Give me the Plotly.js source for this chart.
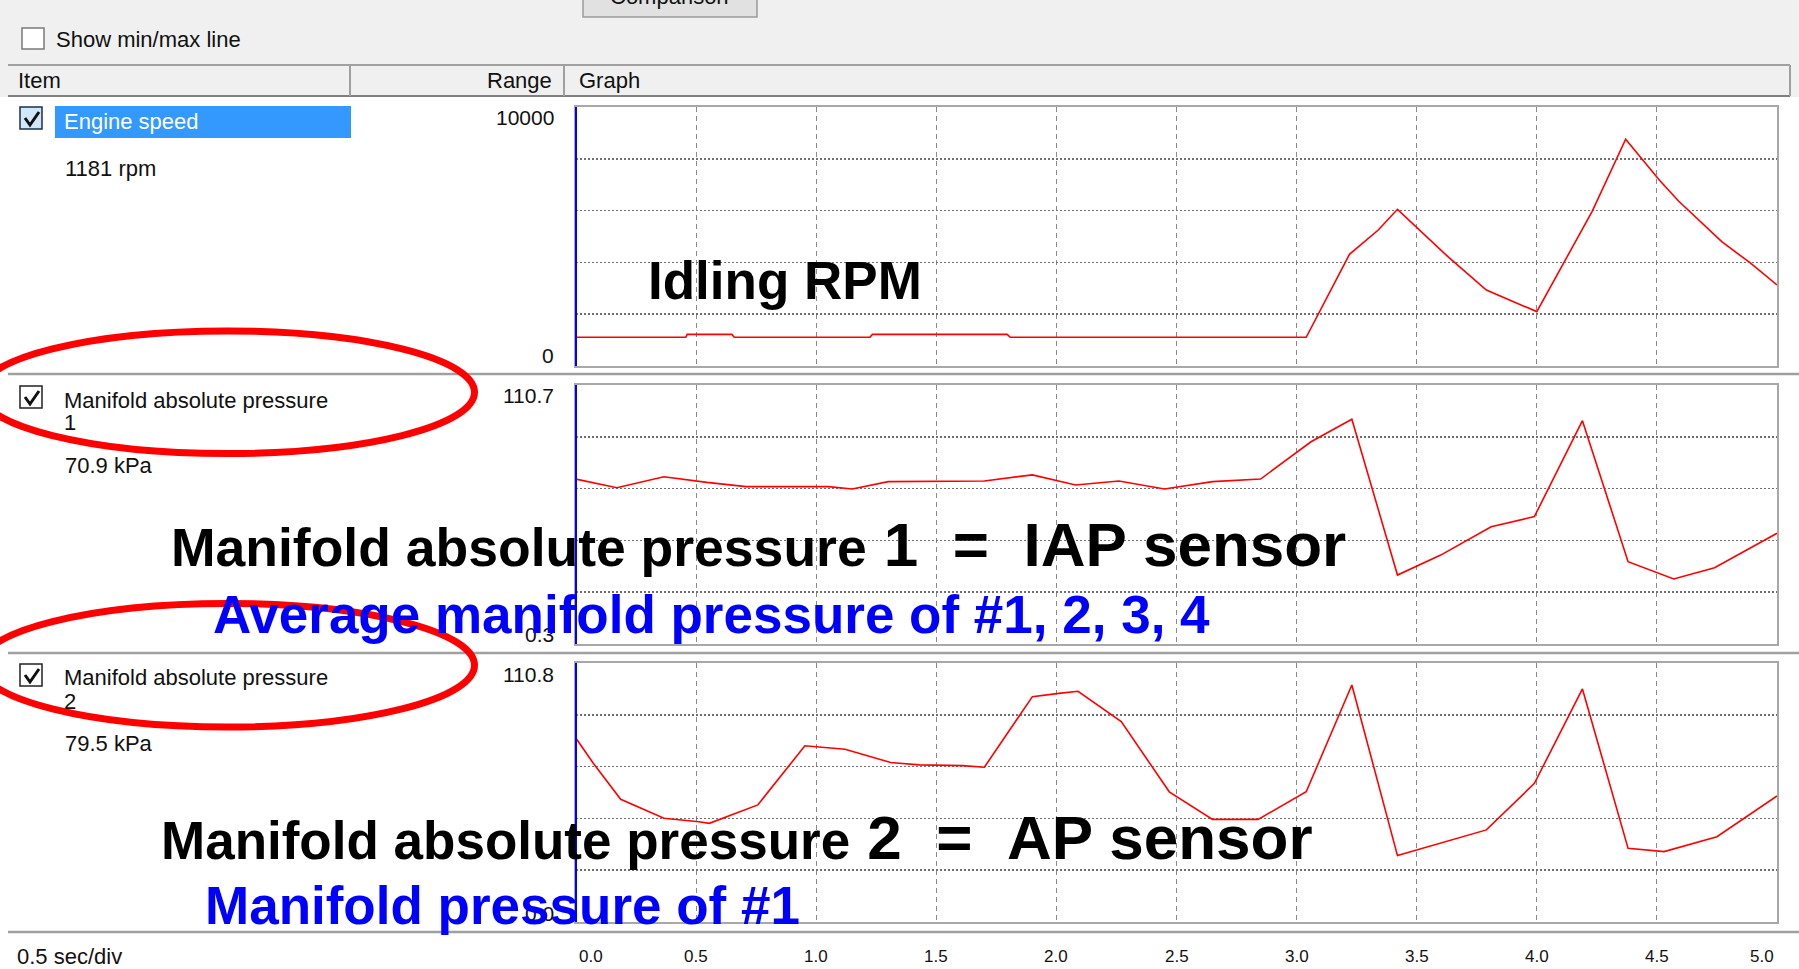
<!DOCTYPE html>
<html><head><meta charset="utf-8">
<script src="https://cdn.plot.ly/plotly-3.0.1.min.js"></script>
<style>html,body{margin:0;padding:0;background:#fff;overflow:hidden}</style>
</head><body><div id="chart" style="width:1799px;height:969px"></div>
<script>
// ---------------- data ----------------
const timeTicks = [0, 0.5, 1, 1.5, 2, 2.5, 3, 3.5, 4, 4.5, 5];
const timeTickText = ["0.0","0.5","1.0","1.5","2.0","2.5","3.0","3.5","4.0","4.5","5.0"];

const rpmTime  = [0, 0.457, 0.463, 0.649, 0.659, 1.224, 1.234, 1.795, 1.808, 3.04, 3.22, 3.34, 3.42, 3.63, 3.79, 4.0, 4.23, 4.37, 4.51, 4.59, 4.77, 4.89, 5.0];
const rpmValue = [1110, 1110, 1220, 1220, 1110, 1110, 1220, 1220, 1110, 1110, 4310, 5250, 6050, 4220, 2930, 2100, 5960, 8760, 7180, 6370, 4800, 3970, 3130];

const map1Time  = [0, 0.17, 0.366, 0.545, 0.708, 1.05, 1.15, 1.30, 1.70, 1.90, 2.08, 2.26, 2.45, 2.65, 2.85, 3.06, 3.23, 3.42, 3.60, 3.81, 3.99, 4.19, 4.38, 4.57, 4.74, 5.0];
const map1Value = [70.6, 66.9, 71.6, 69.2, 67.4, 67.4, 66.4, 69.5, 69.8, 72.4, 68.1, 69.8, 66.4, 69.5, 70.6, 86.5, 96.1, 29.7, 38.2, 50.3, 54.6, 95.5, 35.4, 28.0, 32.8, 47.5];

const map2Time  = [0, 0.072, 0.186, 0.366, 0.512, 0.555, 0.757, 0.953, 1.12, 1.31, 1.43, 1.61, 1.70, 1.90, 2.01, 2.09, 2.27, 2.47, 2.65, 2.84, 3.04, 3.23, 3.42, 3.79, 3.99, 4.19, 4.38, 4.53, 4.75, 5.0];
const map2Value = [78.6, 67.9, 52.5, 44.4, 42.9, 42.2, 50.1, 75.4, 73.9, 68.2, 67.2, 66.9, 66.2, 96.4, 97.8, 98.7, 85.7, 55.7, 43.9, 43.9, 55.7, 101.4, 28.4, 39.4, 59.3, 99.7, 31.5, 30.1, 36.5, 53.9];

const itemNames   = ["Engine speed", "Manifold absolute pressure", "Manifold absolute pressure"];
const itemSuffix  = ["", "1", "2"];
const itemValues  = ["1181 rpm", "70.9 kPa", "79.5 kPa"];
const rangeMax    = [10000, 110.7, 110.8];
const rangeMin    = [0, 0.3, 0.0];
const rangeMaxText = ["10000", "110.7", "110.8"];
const rangeMinText = ["0", "0.3", "0.0"];

const headerLabels = ["Item", "Range", "Graph"];
const noteIdle  = "Idling RPM";
const noteMap1a = "Manifold absolute pressure";
const noteMap1b = "1\u00A0\u00A0=\u00A0\u00A0IAP sensor";
const noteMap1c = "Average manifold pressure of #1, 2, 3, 4";
const noteMap2a = "Manifold absolute pressure";
const noteMap2b = "2\u00A0\u00A0=\u00A0\u00A0AP sensor";
const noteMap2c = "Manifold pressure of #1";

// ---------------- layout helpers ----------------
const W = 1799, H = 969;
const px = x => x / W;
const py = y => 1 - y / H;
const UI = "Liberation Sans, Arial, sans-serif";
const NUM = "Liberation Sans, Arial, sans-serif";
const BIG = "Liberation Sans, Arial, sans-serif";

const panelTop = [107, 385, 663];
const panelBot = [366, 644, 922];
const plotL = 576, plotR = 1777;

function txt(x, y, text, size, color, xa, family) {
  return {xref:'paper', yref:'paper', x:px(x), y:py(y), text:text, showarrow:false,
          xanchor:xa || 'left', yanchor:'middle', borderpad:0,
          font:{family:family || UI, size:size, color:color || '#111'}};
}
function rect(x0, y0, x1, y1, fill, line, lw, layer) {
  return {type:'rect', xref:'paper', yref:'paper', x0:px(x0), x1:px(x1), y0:py(y1), y1:py(y0),
          fillcolor:fill, line:{color:line || 'rgba(0,0,0,0)', width:lw || 0}, layer:layer || 'below'};
}
function hline(x0, x1, y, color, w, layer) {
  return {type:'line', xref:'paper', yref:'paper', x0:px(x0), x1:px(x1), y0:py(y), y1:py(y),
          line:{color:color, width:w}, layer:layer || 'below'};
}
function vline(x, y0, y1, color, w, layer) {
  return {type:'line', xref:'paper', yref:'paper', x0:px(x), x1:px(x), y0:py(y0), y1:py(y1),
          line:{color:color, width:w}, layer:layer || 'below'};
}
function P(x, y) { return px(x) + ',' + py(y); }
function check(x0, y0) {
  return {type:'path', xref:'paper', yref:'paper', layer:'above',
          path:'M' + P(x0 + 4, y0 + 10) + ' L' + P(x0 + 9, y0 + 17) + ' L' + P(x0 + 18, y0 + 4),
          line:{color:'#111', width:3}};
}

// ---------------- traces ----------------
const red = {color:'#ff0000', width:1.6};
const traces = [
  {x:rpmTime,  y:rpmValue,  xaxis:'x',  yaxis:'y',  mode:'lines', line:red, hoverinfo:'skip', showlegend:false},
  {x:map1Time, y:map1Value, xaxis:'x2', yaxis:'y2', mode:'lines', line:red, hoverinfo:'skip', showlegend:false},
  {x:map2Time, y:map2Value, xaxis:'x3', yaxis:'y3', mode:'lines', line:red, hoverinfo:'skip', showlegend:false}
];

// ---------------- axes ----------------
function xax(anchor) {
  return {domain:[px(plotL), px(plotR)], range:[0, 5], anchor:anchor,
          tickvals:timeTicks.slice(1, -1), showticklabels:false, ticks:'',
          showgrid:true, gridcolor:'#8a8a8a', gridwidth:1, griddash:'5px,4px',
          zeroline:false, showline:true, mirror:true, linecolor:'#a8a8a8', linewidth:2, fixedrange:true};
}
function yax(i, anchor) {
  const lo = rangeMin[i], hi = rangeMax[i];
  const tv = [1, 2, 3, 4].map(k => lo + k * (hi - lo) / 5);
  return {domain:[py(panelBot[i]), py(panelTop[i])], range:[lo, hi], anchor:anchor,
          tickvals:tv, showticklabels:false, ticks:'',
          showgrid:true, gridcolor:'#707070', gridwidth:1.5, griddash:'2px,2px',
          zeroline:false, showline:true, mirror:true, linecolor:'#a8a8a8', linewidth:2, fixedrange:true};
}

// ---------------- shapes ----------------
const shapes = [
  rect(0, 0, W, 97, '#f0f0f0'),
  rect(583, -6, 757, 17, '#e1e1e1', '#9a9a9a', 1.5),
  rect(22, 28, 44, 49, '#ffffff', '#7a7a7a', 1.5),
  hline(8, 1790, 65, '#a0a0a0', 2),
  hline(8, 1790, 96, '#808080', 2),
  vline(350, 65, 96, '#a0a0a0', 2),
  vline(564, 65, 96, '#a0a0a0', 2),
  vline(1790, 65, 96, '#a0a0a0', 2),
  hline(8, W, 374, '#a0a0a0', 2.5),
  hline(8, W, 653, '#a0a0a0', 2.5),
  hline(8, W, 932, '#a0a0a0', 2.5),
  rect(55, 106, 351, 138, '#3399ff'),
  rect(20, 107, 42, 129, '#cfe6fb', '#1c2f4a', 1.5, 'above'),
  rect(20, 386, 42, 408, '#ffffff', '#222', 1.5, 'above'),
  rect(20, 664, 42, 686, '#ffffff', '#222', 1.5, 'above'),
  check(21, 108), check(21, 387), check(21, 665),
  {type:'line', xref:'x domain', yref:'y domain', x0:0, x1:0, y0:0, y1:1, line:{color:'#0000ff', width:2}, layer:'above'},
  {type:'line', xref:'x2 domain', yref:'y2 domain', x0:0, x1:0, y0:0, y1:1, line:{color:'#0000ff', width:2}, layer:'above'},
  {type:'line', xref:'x3 domain', yref:'y3 domain', x0:0, x1:0, y0:0, y1:1, line:{color:'#0000ff', width:2}, layer:'above'},
  {type:'circle', xref:'paper', yref:'paper', x0:px(-20), x1:px(474.5), y0:py(453.5), y1:py(331),
   line:{color:'#ff0000', width:7}, layer:'above'},
  {type:'circle', xref:'paper', yref:'paper', x0:px(-20), x1:px(474.5), y0:py(727), y1:py(603.5),
   line:{color:'#ff0000', width:7}, layer:'above'}
];

// ---------------- annotations ----------------
const ann = [];
ann.push(txt(669, -4, 'Comparison', 22, '#111', 'center'));
ann.push(txt(55, 40, 'Show min/max line', 22));
ann.push(txt(17, 81, headerLabels[0], 22));
ann.push(txt(553, 81, headerLabels[1], 22, '#111', 'right'));
ann.push(txt(578, 81, headerLabels[2], 22));

const nameY  = [122, 400, 677];
const sufY   = [null, 423, 701];
const valY   = [169, 465, 743];
const maxY   = [117, 395.5, 674];
const minY   = [355.5, 634, 913];
for (let i = 0; i < 3; i++) {
  ann.push(txt(63, nameY[i], itemNames[i], 22, i === 0 ? '#ffffff' : '#111'));
  if (itemSuffix[i]) ann.push(txt(63, sufY[i], itemSuffix[i], 22));
  ann.push(txt(64, valY[i], itemValues[i], 22));
  ann.push(txt(555, maxY[i], rangeMaxText[i], 21, '#111', 'right', NUM));
  ann.push(txt(555, minY[i], rangeMinText[i], 21, '#111', 'right', NUM));
}
ann.push(txt(16, 956, '0.5 sec/div', 22));

timeTicks.forEach((t, i) => {
  const last = timeTicks.length - 1;
  ann.push({xref:'x3', yref:'paper', x:t, y:py(956), text:timeTickText[i], showarrow:false,
            xanchor: i === 0 ? 'left' : (i === last ? 'right' : 'center'),
            xshift: i === 0 ? 2 : (i === last ? -2 : 0),
            yanchor:'middle', borderpad:0, font:{family:NUM, size:17, color:'#111'}});
});

ann.push(txt(647, 280.6, '<b>' + noteIdle + '</b>', 53, '#000', 'left', BIG));
ann.push(txt(170, 544.5, '<b>' + noteMap1a + '<span style="font-size:62px"> ' + noteMap1b + '</span></b>', 53.5, '#000', 'left', BIG));
ann.push(txt(212, 614.6, '<b>' + noteMap1c + '</b>', 53, '#0000ff', 'left', BIG));
ann.push(txt(160, 837, '<b>' + noteMap2a + '<span style="font-size:62px"> ' + noteMap2b + '</span></b>', 53, '#000', 'left', BIG));
ann.push(txt(204, 905, '<b>' + noteMap2c + '</b>', 53, '#0000ff', 'left', BIG));

const layout = {
  width:W, height:H, margin:{l:0, r:0, t:0, b:0, pad:0},
  paper_bgcolor:'#ffffff', plot_bgcolor:'#ffffff', showlegend:false,
  xaxis:xax('y'), yaxis:yax(0, 'x'),
  xaxis2:xax('y2'), yaxis2:yax(1, 'x2'),
  xaxis3:xax('y3'), yaxis3:yax(2, 'x3'),
  shapes:shapes, annotations:ann
};

Plotly.newPlot('chart', traces, layout, {staticPlot:true, displayModeBar:false});
</script>
</body></html>
